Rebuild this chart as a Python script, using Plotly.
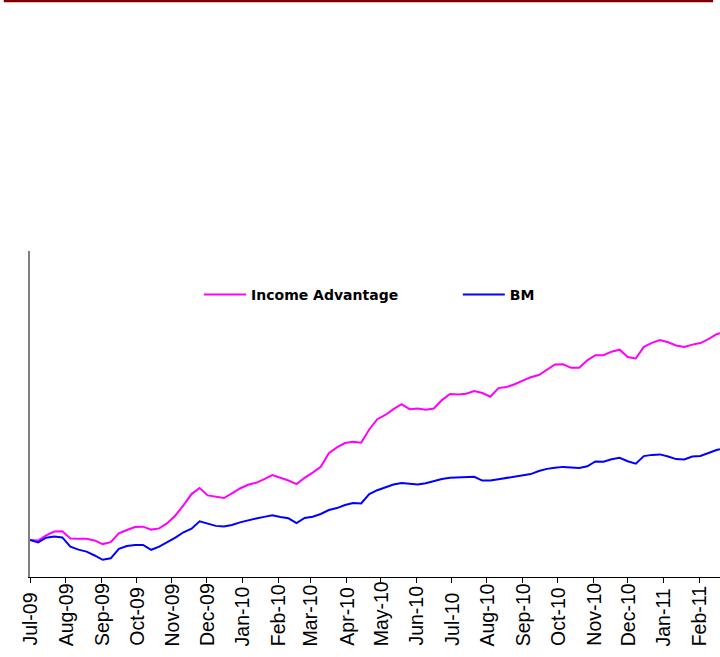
import pandas as pd
import plotly.graph_objects as go

# weekly observation dates (plus final observation)
dates = list(pd.date_range("2009-07-01", "2011-02-16", freq="7D")) + [pd.Timestamp("2011-02-19")]

income_advantage = [
    100.00, 99.88, 101.15, 102.13, 102.20, 100.35, 100.30, 100.30, 99.90, 98.98,
    99.45, 101.68, 102.50, 103.23, 103.33, 102.60, 102.90, 104.20, 106.13, 108.65,
    111.48, 113.00, 111.15, 110.80, 110.50, 111.65, 112.88, 113.80, 114.30, 115.23,
    116.23, 115.58, 114.88, 113.98, 115.55, 116.83, 118.30, 121.70, 123.15, 124.23,
    124.53, 124.33, 127.63, 130.20, 131.25, 132.73, 133.95, 132.70, 132.90, 132.58,
    132.88, 134.98, 136.50, 136.38, 136.55, 137.23, 136.75, 135.83, 137.98, 138.23,
    138.93, 139.83, 140.68, 141.25, 142.63, 143.88, 143.93, 143.05, 143.05, 144.93,
    146.20, 146.20, 147.08, 147.58, 145.73, 145.38, 148.28, 149.30, 150.00, 149.45,
    148.63, 148.23, 148.85, 149.23, 150.20, 151.45, 151.68,
]

bm = [
    100.00, 99.40, 100.58, 100.90, 100.65, 98.35, 97.60, 97.10, 96.13, 95.05,
    95.43, 97.78, 98.50, 98.75, 98.75, 97.55, 98.33, 99.38, 100.60, 101.93,
    102.83, 104.68, 104.13, 103.53, 103.38, 103.75, 104.40, 104.93, 105.38, 105.78,
    106.18, 105.73, 105.43, 104.25, 105.50, 105.83, 106.50, 107.50, 107.98, 108.73,
    109.25, 109.15, 111.50, 112.45, 113.20, 113.88, 114.25, 114.00, 113.85, 114.20,
    114.73, 115.23, 115.55, 115.68, 115.68, 115.80, 114.85, 114.90, 115.20, 115.50,
    115.95, 116.18, 116.48, 117.25, 117.78, 118.05, 118.28, 118.13, 118.00, 118.43,
    119.63, 119.58, 120.18, 120.53, 119.68, 119.08, 120.98, 121.28, 121.40, 120.88,
    120.23, 120.13, 120.88, 121.00, 121.83, 122.48, 122.68,
]

tick_dates = list(pd.date_range("2009-07-01", "2011-02-01", freq="MS"))
tick_labels = [d.strftime("%b-%y") for d in tick_dates]

fig = go.Figure()
fig.add_trace(go.Scatter(x=dates, y=income_advantage, mode="lines", name="Income Advantage",
                         line=dict(color="#FF00FF", width=2), legend="legend"))
fig.add_trace(go.Scatter(x=dates, y=bm, mode="lines", name="BM",
                         line=dict(color="#0000FF", width=2), legend="legend2"))

# month labels, bottom-aligned like the original
for d, lab in zip(tick_dates, tick_labels):
    fig.add_annotation(x=d, y=-0.218, xref="x", yref="paper", text=lab, showarrow=False,
                       textangle=-90, xanchor="center", yanchor="bottom",
                       font=dict(family="Liberation Sans, Arial, sans-serif", size=19.5, color="black"))

# dark red rule at top of page
fig.add_shape(type="rect", xref="paper", yref="paper", x0=-0.038, x1=0.990,
              y0=1.763, y1=1.775, fillcolor="#7F0000", line=dict(width=0), layer="above")

legend_font = dict(family="DejaVu Sans, sans-serif", size=14, color="black", weight="bold")

fig.update_layout(
    width=720, height=657, autosize=False,
    margin=dict(l=30, r=0, t=251, b=80),
    paper_bgcolor="white", plot_bgcolor="white",
    showlegend=True,
    legend=dict(orientation="h", x=0.245, y=0.865, xanchor="left", yanchor="middle",
                itemwidth=42, font=legend_font, bgcolor="rgba(0,0,0,0)"),
    legend2=dict(orientation="h", x=0.620, y=0.865, xanchor="left", yanchor="middle",
                 itemwidth=42, font=legend_font, bgcolor="rgba(0,0,0,0)"),
    xaxis=dict(type="date", range=["2009-07-01", "2011-02-19"],
               tickvals=tick_dates, showticklabels=False,
               ticks="outside", ticklen=5, tickcolor="black", tickwidth=1,
               showline=True, linecolor="black", linewidth=1,
               showgrid=False, zeroline=False),
    yaxis=dict(range=[90.75, 172.25], showticklabels=False, ticks="",
               showline=True, linecolor="#808080", linewidth=2,
               showgrid=False, zeroline=False),
)

fig.write_html("out.html",
               config={"responsive": False, "displayModeBar": False},
               post_script="document.body.style.margin='0px';")
